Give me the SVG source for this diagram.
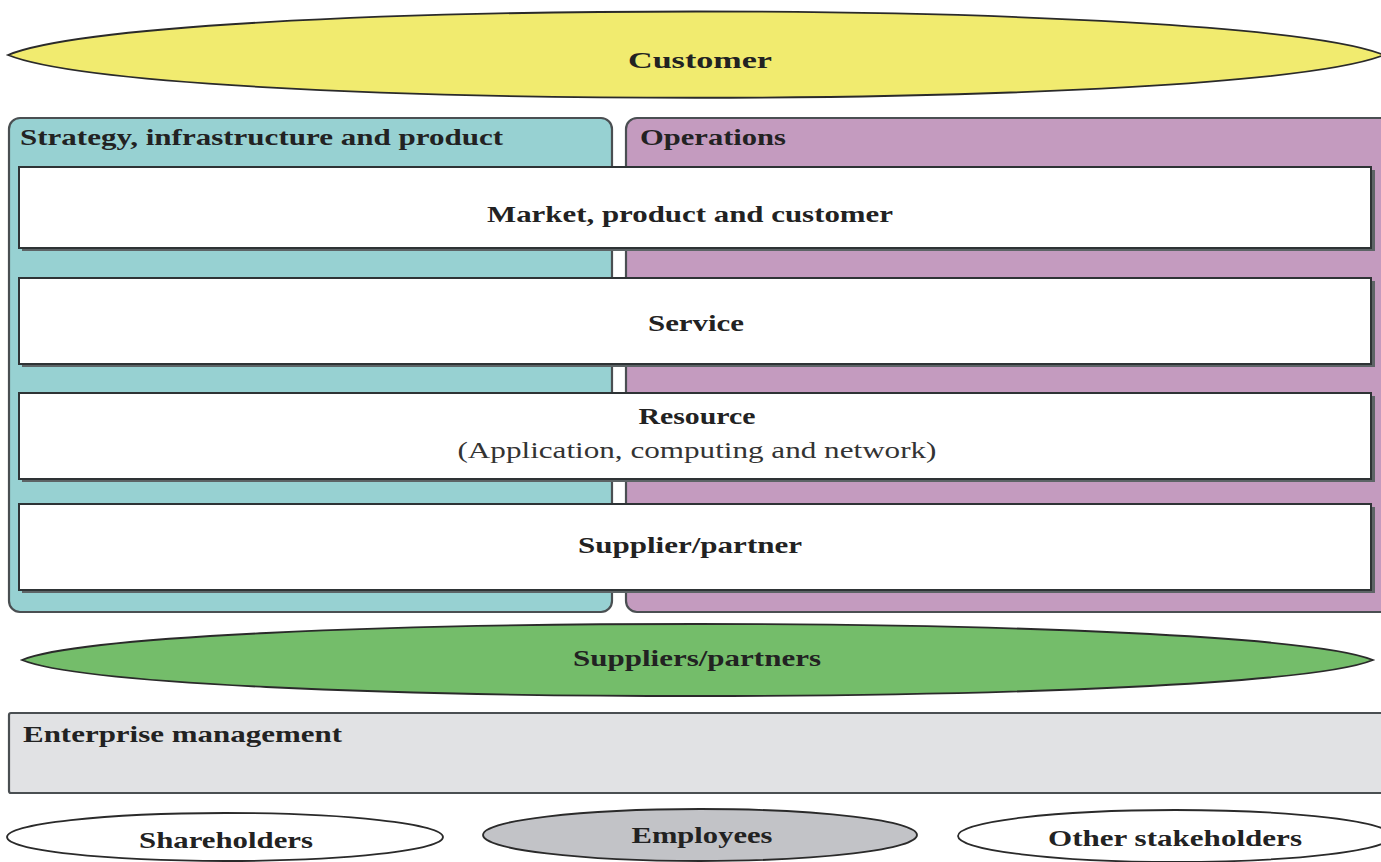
<svg xmlns="http://www.w3.org/2000/svg" width="1381" height="862" viewBox="0 0 1381 862">
<style>
.t{font-family:"Liberation Serif","Times New Roman",serif;font-weight:bold;font-size:23px;fill:#222}
.r{font-family:"Liberation Serif","Times New Roman",serif;font-size:23px;fill:#333}
.c{text-anchor:middle}
.ol{stroke:#2a2a2a;stroke-width:1.8}
.panel{stroke:#4a4f52;stroke-width:2.2}
.wb{fill:#ffffff;stroke:#2e3335;stroke-width:2}
.sh{fill:#5d6466}
</style>
<rect width="1381" height="862" fill="#ffffff"/>
<g id="customer">
<path class="ol" fill="#f1eb6f" d="M8,55 C150,-3 1240,-3 1384,55 C1240,112 150,112 8,55 Z"/>
<text class="t c" x="700" y="68" font-size="26" textLength="144" lengthAdjust="spacingAndGlyphs">Customer</text>
</g>
<g id="strategy">
<rect class="panel" x="9" y="118" width="603" height="494" rx="11" fill="#97d1d2"/>
<text class="t" x="20" y="145" textLength="483" lengthAdjust="spacingAndGlyphs">Strategy, infrastructure and product</text>
</g>
<g id="operations">
<rect class="panel" x="626" y="118" width="780" height="494" rx="11" fill="#c49bbf"/>
<text class="t" x="640" y="145" textLength="146" lengthAdjust="spacingAndGlyphs">Operations</text>
</g>
<g id="market">
<rect class="sh" x="22" y="170" width="1353" height="81"/>
<rect class="wb" x="19" y="167" width="1352" height="81"/>
<text class="t c" x="690" y="222" textLength="406" lengthAdjust="spacingAndGlyphs">Market, product and customer</text>
</g>
<g id="service">
<rect class="sh" x="22" y="281" width="1353" height="86"/>
<rect class="wb" x="19" y="278" width="1352" height="86"/>
<text class="t c" x="696" y="331" textLength="96" lengthAdjust="spacingAndGlyphs">Service</text>
</g>
<g id="resource">
<rect class="sh" x="22" y="396" width="1353" height="86"/>
<rect class="wb" x="19" y="393" width="1352" height="86"/>
<text class="t c" x="697" y="424" textLength="117" lengthAdjust="spacingAndGlyphs">Resource</text>
<text class="r c" x="697" y="458" textLength="479" lengthAdjust="spacingAndGlyphs">(Application, computing and network)</text>
</g>
<g id="supplier">
<rect class="sh" x="22" y="507" width="1353" height="86"/>
<rect class="wb" x="19" y="504" width="1352" height="86"/>
<text class="t c" x="690" y="553" textLength="224" lengthAdjust="spacingAndGlyphs">Supplier/partner</text>
</g>
<g id="suppliers">
<path class="ol" fill="#74bd6a" d="M22,660 C140,612 1255,612 1373,660 C1255,708 140,708 22,660 Z"/>
<text class="t c" x="697" y="666" textLength="248" lengthAdjust="spacingAndGlyphs">Suppliers/partners</text>
</g>
<g id="enterprise">
<rect class="panel" x="9" y="713" width="1390" height="80" rx="2" fill="#e1e2e4"/>
<text class="t" x="23" y="742" textLength="319" lengthAdjust="spacingAndGlyphs">Enterprise management</text>
</g>
<g id="shareholders">
<ellipse class="ol" cx="225" cy="837" rx="218" ry="24" fill="#ffffff"/>
<text class="t c" x="226" y="848" textLength="174" lengthAdjust="spacingAndGlyphs">Shareholders</text>
</g>
<g id="employees">
<ellipse class="ol" cx="700" cy="835" rx="217" ry="26" fill="#c2c3c7"/>
<text class="t c" x="702" y="843" textLength="141" lengthAdjust="spacingAndGlyphs">Employees</text>
</g>
<g id="others">
<ellipse class="ol" cx="1175" cy="836" rx="217" ry="26" fill="#ffffff"/>
<text class="t c" x="1175" y="846" textLength="254" lengthAdjust="spacingAndGlyphs">Other stakeholders</text>
</g>
<g id="connectors"></g>
</svg>
